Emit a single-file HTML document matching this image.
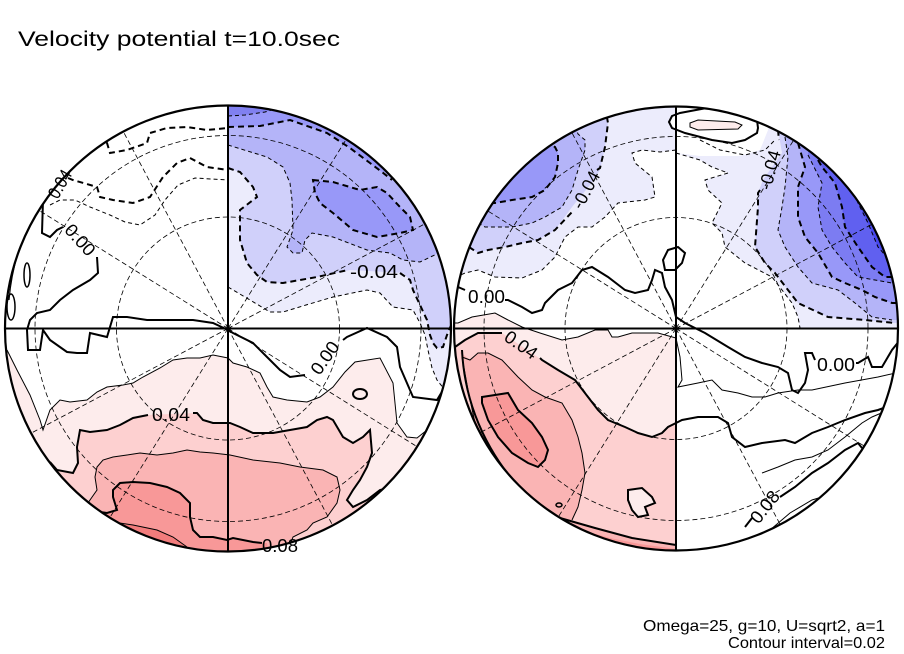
<!DOCTYPE html>
<html><head><meta charset="utf-8"><style>
html,body{margin:0;padding:0;background:#fff;}
svg{display:block;}
text{font-family:"Liberation Sans",sans-serif;fill:#000;}
</style></head><body>
<svg width="904" height="654" viewBox="0 0 904 654" xmlns="http://www.w3.org/2000/svg">
<defs>
<clipPath id="cl"><circle cx="228" cy="328.5" r="223"/></clipPath>
<clipPath id="cr"><circle cx="676" cy="328.5" r="222"/></clipPath>
</defs>
<rect width="904" height="654" fill="#fff"/>

<!-- ================= LEFT CIRCLE ================= -->
<g clip-path="url(#cl)">
 <!-- blue fills -->
 <polygon fill="#ececfc" points="228,287 250,300 270,312 283,312 306,305 333,297 367,290 380,293 393,307 413,310 420,323 425,335 428,350 432,368 437,380 445,390 452,388 460,388 460,95 228,95"/>
 <polygon fill="#d0d0fa" points="228,168 240,172 253,187 257,197 240,210 240,240 247,263 257,275 267,282 283,283 317,277 350,270 403,273 410,280 413,290 420,305 427,320 430,335 433,343 437,348 443,347 447,335 452,323 460,323 460,95 228,95"/>
 <polygon fill="#b4b4f8" points="228,145 267,157 283,167 290,183 292,200 293,230 287,247 293,253 302,253 305,240 312,233 333,237 367,250 390,253 403,260 420,262 445,250 460,250 460,95 228,95"/>
 <polygon fill="#9898f8" points="228,127 260,126 290,120 327,133 350,148 370,163 382,172 400,172 400,95 228,95"/>
 <polygon fill="#9898f8" points="313,180 333,182 360,190 377,187 387,193 400,207 410,217 413,230 400,233 377,237 353,230 333,213 320,203 315,193"/>
 <polygon fill="#8080f0" points="228,95 228,116 245,115 265,112 278,108 280,95"/>
 <!-- red fills -->
 <polygon fill="#fdecec" points="0,345 7,350 17,370 30,395 40,420 43,430 50,410 60,400 70,402 87,400 97,392 107,387 123,385 133,383 143,377 160,368 173,360 187,358 200,358 213,355 228,358 233,363 247,367 260,373 267,387 273,397 287,400 307,402 320,397 333,387 345,372 355,362 380,358 393,383 397,423 407,437 417,438 427,430 435,423 460,423 460,560 0,560"/>
 <polygon fill="#fdd0d0" points="0,462 50,462 57,470 73,473 78,463 77,447 80,430 90,432 107,430 120,425 133,418 147,415 197,413 203,420 213,423 230,423 240,427 253,433 273,433 290,430 307,427 317,420 327,417 333,420 343,437 353,443 363,437 370,430 372,453 367,467 360,480 353,490 347,500 353,507 367,500 380,490 392,487 460,487 460,560 0,560"/>
 <polygon fill="#fab4b4" points="0,503 88,503 90,500 97,490 95,477 97,467 103,460 113,457 127,455 140,453 157,455 173,453 187,450 200,452 213,453 230,455 253,460 280,463 300,467 323,470 337,477 340,490 337,503 327,517 313,523 307,530 293,537 290,560 0,560"/>
 <polygon fill="#f89898" points="0,512 100,512 107,513 117,510 113,497 113,490 120,483 133,482 150,483 167,487 180,493 190,503 190,517 193,530 200,537 213,537 227,540 233,538 253,542 267,543 270,560 0,560"/>
 <polygon fill="#f27c7c" points="0,520 105,520 113,522 133,525 157,530 173,537 187,547 190,560 0,560"/>

 <!-- grid -->
 <g stroke="#000" stroke-width="0.8" fill="none" stroke-dasharray="5,3">
  <circle cx="228" cy="328.5" r="111.5"/>
  <circle cx="228" cy="328.5" r="193"/>
  <line x1="228" y1="328.5" x2="424.9" y2="223.8"/>
  <line x1="228" y1="328.5" x2="346.2" y2="139.4"/>
  <line x1="228" y1="328.5" x2="123.3" y2="131.6"/>
  <line x1="228" y1="328.5" x2="38.9" y2="210.3"/>
  <line x1="228" y1="328.5" x2="31.1" y2="433.2"/>
  <line x1="228" y1="328.5" x2="109.8" y2="517.6"/>
  <line x1="228" y1="328.5" x2="332.7" y2="525.4"/>
  <line x1="228" y1="328.5" x2="417.1" y2="446.7"/>
 </g>

 <!-- negative contours -->
 <g fill="none" stroke="#000">
  <polyline stroke-width="1" stroke-dasharray="4,3" points="228,287 250,300 270,312 283,312 306,305 333,297 367,290 380,293 393,307 413,310 420,323 425,335 428,350 432,368 437,380 445,390 452,388"/>
  <polyline stroke-width="2" stroke-dasharray="6,4" points="228,168 240,172 253,187 257,197 240,210 240,240 247,263 257,275 267,282 283,283 317,277 348,270"/>
  <polyline stroke-width="2" stroke-dasharray="6,4" points="400,273 410,280 413,290 420,305 427,320 430,335 433,343 437,348 443,347 447,335 452,323"/>
  <polyline stroke-width="1" stroke-dasharray="4,3" points="228,145 267,157 283,167 290,183 292,200 293,230 287,247 293,253 302,253 305,240 312,233 333,237 367,250 390,253 403,260 420,262 445,250"/>
  <polyline stroke-width="2" stroke-dasharray="6,4" points="228,127 260,126 290,120 327,133 350,148 370,163 382,172 392,180"/>
  <polygon stroke-width="2" stroke-dasharray="6,4" points="313,180 333,182 360,190 377,187 387,193 400,207 410,217 413,230 400,233 377,237 353,230 333,213 320,203 315,193"/>
  <polyline stroke-width="1" stroke-dasharray="4,3" points="228,116 245,115 265,112 278,108 285,104"/>
  <!-- upper-left dashed -->
  <polyline stroke-width="2" stroke-dasharray="6,4" points="100,135 107,143 110,153 127,150 147,143 150,133 167,128 187,127 207,130 228,128"/>
  <polyline stroke-width="2" stroke-dasharray="6,4" points="68,178 73,180 97,187 100,197 113,200 133,203 150,197 163,177 177,163 190,158 207,167 228,170"/>
  <polyline stroke-width="1" stroke-dasharray="4,3" points="50,205 60,200 75,200 90,207 110,215 125,222 140,225 155,215 165,200 178,185 195,178 228,180"/>
 </g>

 <!-- zero / positive contours -->
 <g fill="none" stroke="#000">
  <polyline stroke-width="2" points="43,200 42,233 50,237 57,230 63,227"/>
  <polyline stroke-width="2" points="97,257 98,273 90,280 73,290 60,300 50,310 37,313 30,320 27,330 28,350 40,350 43,330 50,340 67,352 77,353 87,353 90,333 107,337 113,317 127,317 147,320 173,320 193,320 213,323 228,330 233,333 253,343 267,357 280,370 290,377 305,375"/>
  <polyline stroke-width="2" points="343,340 347,337 367,328 387,337 397,347 400,367 413,397 437,400 443,390 450,388"/>
  <ellipse stroke-width="2" cx="360" cy="394" rx="7" ry="5"/>
  <ellipse stroke-width="1.5" cx="27" cy="275" rx="3" ry="12"/>
  <ellipse stroke-width="1.5" cx="11" cy="307" rx="4" ry="13"/>
  <path stroke-width="1.2" d="M 46,195 A 220 220 0 0 0 9,300"/>
  <!-- 0.02 -->
  <polyline stroke-width="1" points="7,350 17,370 30,395 40,420 43,430 50,410 60,400 70,402 87,400 97,392 107,387 123,385 133,383 143,377 160,368 173,360 187,358 200,358 213,355 228,358 233,363 247,367 260,373 267,387 273,397 287,400 307,402 320,397 333,387 345,372 355,362 380,358 393,383 397,423 407,437 417,438 427,430 435,423"/>
  <!-- 0.04 -->
  <polyline stroke-width="2" points="50,462 57,470 73,473 78,463 77,447 80,430 90,432 107,430 120,425 133,418 148,415"/>
  <polyline stroke-width="2" points="193,413 197,413 203,420 213,423 230,423 240,427 253,433 273,433 290,430 307,427 317,420 327,417 333,420 343,437 353,443 363,437 370,430 372,453 367,467 360,480 353,490 347,500 353,507 367,500 380,490 392,487"/>
  <!-- 0.06 -->
  <polyline stroke-width="1" points="88,503 90,500 97,490 95,477 97,467 103,460 113,457 127,455 140,453 157,455 173,453 187,450 200,452 213,453 230,455 253,460 280,463 300,467 323,470 337,477 340,490 337,503 327,517 313,523 307,530 293,537 290,545"/>
  <!-- 0.08 -->
  <polyline stroke-width="2" points="100,512 107,513 117,510 113,497 113,490 120,483 133,482 150,483 167,487 180,493 190,503 190,517 193,530 200,537 213,537 227,540 233,538 253,542 262,543"/>
  <!-- 0.10 -->
  <polyline stroke-width="1" points="105,520 113,522 133,525 157,530 173,537 187,547"/>
 </g>

 <!-- axes -->
 <line x1="0" y1="328.5" x2="460" y2="328.5" stroke="#000" stroke-width="2"/>
 <line x1="228" y1="100" x2="228" y2="560" stroke="#000" stroke-width="2"/>
</g>
<circle cx="228" cy="328.5" r="223" fill="none" stroke="#000" stroke-width="2.2"/>

<!-- left labels -->
<g font-size="18">
 <text x="350" y="278" textLength="48" lengthAdjust="spacingAndGlyphs">-0.04</text>
 <text x="152" y="421" textLength="38" lengthAdjust="spacingAndGlyphs">0.04</text>
 <text transform="translate(80,240) rotate(48)" text-anchor="middle" dy="6" textLength="36" lengthAdjust="spacingAndGlyphs">0.00</text>
 <text transform="translate(325,358) rotate(-55)" text-anchor="middle" dy="6" textLength="36" lengthAdjust="spacingAndGlyphs">0.00</text>
 <text transform="translate(60,184) rotate(-60)" text-anchor="middle" dy="6" textLength="30" lengthAdjust="spacingAndGlyphs">0.04</text>
 <text x="262" y="552" textLength="36" lengthAdjust="spacingAndGlyphs">0.08</text>
</g>

<!-- ================= RIGHT CIRCLE ================= -->
<g clip-path="url(#cr)">
 <!-- UL blue -->
 <polygon fill="#ececfc" points="676,95 676,150 660,152 642,150 632,153 635,163 652,177 655,197 645,200 618,203 605,217 592,227 578,227 565,237 555,257 542,270 522,278 495,277 478,270 465,273 450,280 440,280 440,95"/>
 <polygon fill="#d0d0fa" points="469,247 478,253 488,250 505,247 522,243 538,240 555,230 572,207 590,185 600,170 605,147 608,123 606,95 440,95 440,247"/>
 <polygon fill="#b4b4f8" points="478,223 485,227 512,227 532,223 545,217 562,207 572,190 578,170 585,150 585,140 578,134 575,125 575,95 440,95 440,223"/>
 <polygon fill="#9898f8" points="490,203 495,203 512,200 532,197 545,190 555,177 558,163 558,153 555,147 548,143 548,95 440,95 440,203"/>
 <!-- UR blue -->
 <polygon fill="#ececfc" points="676,153 700,160 712,167 728,173 705,180 708,190 722,203 712,223 722,233 725,247 745,263 772,277 792,303 798,317 800,328.5 910,328.5 910,95 772,95 768,130 760,150 740,156 700,156"/>
 <polygon fill="#d0d0fa" points="776,95 776,120 778,130 782,153 763,180 758,193 758,207 755,247 765,263 775,273 788,290 798,303 828,317 865,320 895,323 910,323 910,95"/>
 <polygon fill="#b4b4f8" points="785,95 785,137 788,157 785,187 782,207 778,230 785,247 798,267 812,283 838,290 855,303 872,317 892,320 910,320 910,95"/>
 <polygon fill="#9898f8" points="798,95 798,143 805,167 798,187 798,217 805,237 818,253 832,277 845,283 862,290 875,297 892,303 910,303 910,95"/>
 <polygon fill="#7c7cf2" points="808,95 808,155 812,163 822,183 818,207 822,230 832,247 845,263 858,277 875,280 892,283 910,283 910,95"/>
 <polygon fill="#6060f0" points="818,95 818,160 822,167 835,183 842,207 845,227 858,247 872,267 885,277 910,277 910,95"/>
 <polygon fill="#4848ee" points="850,95 858,203 868,223 878,247 892,263 910,263 910,95"/>
 <!-- top loop -->
 <polygon fill="#fff" stroke="#000" stroke-width="2" points="669,122 672,116 680,113 712,107 745,113 757,120 758,128 757,133 745,140 732,143 712,140 685,133 672,128"/>
 <polygon fill="#fdecec" stroke="#000" stroke-width="1" points="690,123 698,120 735,122 742,125 738,129 698,130 690,127"/>
 <!-- LL red -->
 <polygon fill="#fdecec" points="440,323 458,323 472,317 495,313 508,320 522,327 540,333 562,340 578,337 595,330 608,330 612,337 618,337 632,333 645,333 658,333 676,338 676,560 440,560"/>
 <polygon fill="#fdd0d0" points="440,350 455,347 465,340 478,333 502,333 542,360 558,370 575,380 588,397 598,410 608,420 625,427 638,433 652,437 662,433 668,427 676,423 676,560 440,560"/>
 <polygon fill="#fab4b4" points="460,352 470,360 478,353 488,353 502,360 518,377 532,390 545,397 562,403 572,420 578,437 582,453 585,473 582,490 578,507 572,520 565,522 555,517 532,497 512,480 492,457 475,423 468,390 462,357"/>
 <polygon fill="#fab4b4" points="560,518 595,528 632,538 676,545 676,560 540,560"/>
 <polygon fill="#f89898" points="575,528 610,538 640,544 676,549 676,560 560,560"/>
 <polygon fill="#f89898" points="482,397 508,393 518,410 532,423 542,437 548,450 545,460 538,467 528,463 512,453 498,437 488,420 482,403"/>
 <polygon fill="#fdecec" points="628,490 642,488 652,497 655,503 645,507 648,515 638,517 632,510 628,500"/>

 <!-- grid -->
 <g stroke="#000" stroke-width="0.8" fill="none" stroke-dasharray="5,3">
  <circle cx="676" cy="328.5" r="111"/>
  <circle cx="676" cy="328.5" r="192"/>
  <line x1="676" y1="328.5" x2="872" y2="224.3"/>
  <line x1="676" y1="328.5" x2="793.6" y2="140.2"/>
  <line x1="676" y1="328.5" x2="571.8" y2="132.5"/>
  <line x1="676" y1="328.5" x2="487.7" y2="210.9"/>
  <line x1="676" y1="328.5" x2="480" y2="432.7"/>
  <line x1="676" y1="328.5" x2="558.4" y2="516.8"/>
  <line x1="676" y1="328.5" x2="780.2" y2="524.5"/>
  <line x1="676" y1="328.5" x2="864.3" y2="446.1"/>
 </g>

 <!-- negative contours -->
 <g fill="none" stroke="#000">
  <polyline stroke-width="1" stroke-dasharray="4,3" points="676,150 660,152 642,150 632,153 635,163 652,177 655,197 645,200 618,203 605,217 592,227 578,227 565,237 555,257 542,270 522,278 495,277 478,270 465,273 450,280"/>
  <polyline stroke-width="2" stroke-dasharray="6,4" points="469,247 478,253 488,250 505,247 522,243 538,240 555,230 572,212"/>
  <polyline stroke-width="2" stroke-dasharray="6,4" points="597,170 600,168 605,147 608,123 606,112"/>
  <polyline stroke-width="1" stroke-dasharray="4,3" points="478,223 485,227 512,227 532,223 545,217 562,207 572,190 578,170 585,150 585,140 578,134 575,125"/>
  <polyline stroke-width="2" stroke-dasharray="6,4" points="490,203 495,203 512,200 532,197 545,190 555,177 558,163 558,153 555,147 548,143"/>
  <polyline stroke-width="1" stroke-dasharray="4,3" points="676,153 700,160 712,167 728,173 705,180 708,190 722,203 712,223 722,233 725,247 745,263 772,277 792,303 798,317 800,328"/>
  <polyline stroke-width="2" stroke-dasharray="6,4" points="776,120 778,130 779,140"/>
  <polyline stroke-width="2" stroke-dasharray="6,4" points="760,190 758,193 758,207 755,247 765,263 775,273 788,290 798,303 828,317 865,320 895,323"/>
  <polyline stroke-width="1" stroke-dasharray="4,3" points="785,137 788,157 785,187 782,207 778,230 785,247 798,267 812,283 838,290 855,303 872,317 892,320"/>
  <polyline stroke-width="2" stroke-dasharray="6,4" points="798,143 805,167 798,187 798,217 805,237 818,253 832,277 845,283 862,290 875,297 892,303 900,303"/>
  <polyline stroke-width="1" stroke-dasharray="4,3" points="808,155 812,163 822,183 818,207 822,230 832,247 845,263 858,277 875,280 892,283 900,283"/>
  <polyline stroke-width="2" stroke-dasharray="6,4" points="818,160 822,167 835,183 842,207 845,227 858,247 872,267 885,277 900,277"/>
  <polyline stroke-width="1" stroke-dasharray="4,3" points="850,180 858,203 868,223 878,247 892,263 900,263"/>
  <polyline stroke-width="1" stroke-dasharray="4,3" points="700,140 720,150 745,155 765,150 775,140"/>
 </g>

 <!-- zero / positive contours -->
 <g fill="none" stroke="#000">
  <polyline stroke-width="2" points="505,300 508,300 522,307 532,313 542,310 545,303 558,290 572,283 582,270 592,267 608,277 625,290 635,293 648,290 652,280 655,270 662,273 665,287 672,300 676,317 685,323 705,333 728,347 745,357 762,363 778,367 788,373 792,390 798,393 805,383 808,370 805,353 812,353 815,360"/>
  <polyline stroke-width="2" points="458,287 465,290"/>
  <polyline stroke-width="2" points="856,363 858,363 868,357 872,367 882,367 892,350 900,340"/>
  <polygon stroke-width="2" points="668,250 678,247 685,253 682,263 675,270 665,270 663,260"/>
  <!-- 0.02 -->
  <polyline stroke-width="1" points="454,323 458,323 472,317 495,313 508,320 522,327 540,333 562,340 578,337 595,330 608,330 612,337 618,337 632,333 645,333 658,333 676,338 680,357 682,380 678,387 698,383 712,380 722,390 738,393 752,397 765,397 778,393 798,390 812,390 845,383 878,377 900,372"/>
  <!-- 0.04 -->
  <polyline stroke-width="2" points="455,347 465,340 478,333 502,333"/>
  <polyline stroke-width="2" points="540,358 542,360 558,370 575,380 588,397 598,410 608,420 625,427 638,433 652,437 662,433 668,427 676,423 682,420 698,417 718,417 728,423 732,437 745,447 762,443 785,440 795,443 812,433 828,427 845,420 865,413 878,410 900,402"/>
  <path stroke-width="2" d="M 462,350 A 219 219 0 0 0 560,522"/>
  <!-- 0.06 -->
  <polyline stroke-width="1" points="462,357 470,360 478,353 488,353 502,360 518,377 532,390 545,397 562,403 572,420 578,437 582,453 585,473 582,490 578,507 572,520"/>
  <polyline stroke-width="1" points="462,357 468,390 475,423 492,457 512,480 532,497 555,517 565,520"/>
  <polyline stroke-width="1" points="762,473 778,467 795,460 812,457 828,450 845,437 862,423 872,417 900,405"/>
  <!-- 0.08 -->
  <polygon stroke-width="2" points="482,397 508,393 518,410 532,423 542,437 548,450 545,460 538,467 528,463 512,453 498,437 488,420 482,403"/>
  <polyline stroke-width="2" points="560,518 595,528 632,538 676,545"/>
  <polyline stroke-width="2" points="745,527 752,518"/>
  <polyline stroke-width="2" points="780,497 795,487 812,473 828,463 845,450 858,443 862,448"/>
  <polygon stroke-width="2" points="628,490 642,488 652,497 655,503 645,507 648,515 638,517 632,510 628,500"/>
  <ellipse stroke-width="1.5" cx="559" cy="505" rx="3" ry="2"/>
  <!-- 0.10 -->
  <polyline stroke-width="1" points="770,530 790,513 812,500 835,493 860,480 880,465"/>
 </g>

 <!-- axes -->
 <line x1="440" y1="328.5" x2="910" y2="328.5" stroke="#000" stroke-width="2"/>
 <line x1="676" y1="100" x2="676" y2="560" stroke="#000" stroke-width="2"/>
</g>
<circle cx="676" cy="328.5" r="222" fill="none" stroke="#000" stroke-width="2.2"/>

<!-- right labels -->
<g font-size="18">
 <text x="468" y="303" textLength="37" lengthAdjust="spacingAndGlyphs">0.00</text>
 <text x="817" y="371" textLength="38" lengthAdjust="spacingAndGlyphs">0.00</text>
 <text transform="translate(586,190) rotate(-62)" text-anchor="middle" dy="6" textLength="40" lengthAdjust="spacingAndGlyphs">-0.04</text>
 <text transform="translate(770,170) rotate(-75)" text-anchor="middle" dy="6" textLength="40" lengthAdjust="spacingAndGlyphs">-0.04</text>
 <text transform="translate(521,345) rotate(35)" text-anchor="middle" dy="6" textLength="36" lengthAdjust="spacingAndGlyphs">0.04</text>
 <text transform="translate(765,507) rotate(-52)" text-anchor="middle" dy="6" textLength="36" lengthAdjust="spacingAndGlyphs">0.08</text>
</g>

<!-- titles -->
<text x="18" y="46" font-size="21" textLength="322" lengthAdjust="spacingAndGlyphs">Velocity potential t=10.0sec</text>
<text x="885" y="631" font-size="16" text-anchor="end" textLength="242" lengthAdjust="spacingAndGlyphs">Omega=25, g=10, U=sqrt2, a=1</text>
<text x="885" y="648" font-size="16" text-anchor="end" textLength="157" lengthAdjust="spacingAndGlyphs">Contour interval=0.02</text>
</svg>
</body></html>
